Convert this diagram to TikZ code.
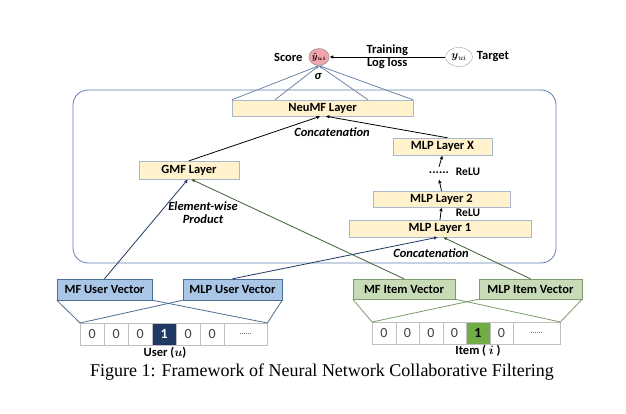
\documentclass[tikz,border=0pt]{standalone}
\usepackage{amsmath}
\usepackage{fontspec}
\setmainfont{Carlito}
\newfontfamily\capfont{Liberation Serif}
\usetikzlibrary{arrows.meta,shapes.geometric}

\definecolor{layerfill}{HTML}{FFF2CC}
\definecolor{layerline}{HTML}{A9B8CC}
\definecolor{userfill}{HTML}{A9C6E6}
\definecolor{userline}{HTML}{4A6E96}
\definecolor{userdark}{HTML}{1F3864}
\definecolor{itemfill}{HTML}{C6DBB6}
\definecolor{itemline}{HTML}{7C9A6C}
\definecolor{itemdark}{HTML}{3D6130}
\definecolor{itemcell}{HTML}{70AD47}
\definecolor{cellline}{HTML}{BFBFBF}
\definecolor{digit}{HTML}{404040}
\definecolor{scorefill}{HTML}{F3A5AD}
\definecolor{boxline}{HTML}{5D7FAF}
\definecolor{sigline}{HTML}{6D86A8}

\begin{document}
\begin{tikzpicture}[%
      x=1pt, y=-1pt,
      every node/.style={font={\fontsize{12.5}{14}\selectfont\bfseries},
                         inner sep=1pt},
      layer/.style={draw=layerline, fill=layerfill, minimum height=17pt},
      uvec/.style={draw=userline, fill=userfill, minimum height=21pt},
      ivec/.style={draw=itemline, fill=itemfill, minimum height=20pt},
      cell/.style={draw=cellline, fill=white, anchor=north west,
                   minimum width=24pt, minimum height=22pt, inner sep=0pt,
                   font={\fontsize{14}{15}\selectfont}, text=digit},
      tag/.style={font={\fontsize{12.5}{14}\selectfont\bfseries\itshape}},
      small/.style={font={\fontsize{11.5}{13}\selectfont\bfseries}},
      uline/.style={draw=userdark, thick, -{Latex[length=4pt,width=3.5pt]}},
      iline/.style={draw=itemdark, thick, -{Latex[length=4pt,width=3.5pt]}},
      kline/.style={draw=black, thick, -{Latex[length=4pt,width=3.5pt]}},
      sline/.style={draw=sigline, thick, -{Latex[length=3pt,width=3pt]}},
      fan/.style={thick},
    ]
    \useasboundingbox (0,0) rectangle (626,414);
    \draw[boxline, thick, rounded corners=15pt] (73,90) rectangle (556,263);

    % output
    \node[draw=gray, fill=scorefill, ellipse, minimum width=19pt,
          minimum height=17pt, inner sep=0pt,
          font={\fontsize{9}{9}\selectfont}] (score) at (319,57)
      {$\boldsymbol{\hat{y}_{ui}}$};
    \node[draw=gray!70, fill=white, ellipse, minimum width=27pt,
          minimum height=19pt, inner sep=0pt,
          font={\fontsize{11}{11}\selectfont}] (target) at (459,57)
      {$\boldsymbol{y}_{ui}$};
    \node[anchor=east] at ([xshift=-5pt]score.west) {Score};
    \node[anchor=west] at ([xshift=3pt]target.east) {Target};
    \draw[kline] (target) -- node[align=center] {Training\\[-1pt]Log loss} (score);
    \node[tag, inner sep=0pt] at (318,77) {σ};

    % layers
    \node[layer, minimum width=181pt, minimum height=16pt] (neumf) at (322.5,108) {NeuMF Layer};
    \node[layer, minimum width=100pt, minimum height=18pt] (gmf) at (189,170) {GMF Layer};
    \node[layer, minimum width=99pt] (mlpx) at (442.5,146.5) {MLP Layer X};
    \node[layer, minimum width=137pt, minimum height=16pt] (mlp2) at (441.5,199) {MLP Layer 2};
    \node[layer, minimum width=182pt] (mlp1) at (440,228.5) {MLP Layer 1};
    \node[inner sep=0pt, minimum height=12pt] (dots) at (439,173) {......};
    \node[small] at (468,172) {ReLU};
    \node[small] at (468,213) {ReLU};

    \foreach \dx in {-90.5,-47.5,45.5,90.5}
      \draw[sline] ([xshift=\dx pt]neumf.north) -- (score.south);

    \draw[kline] (mlp1.north) -- (mlp2.south);
    \draw[kline] (mlp2.north) -- (dots.south);
    \draw[kline] (dots.north) -- (mlpx.south);
    \draw[kline] (gmf.north) -- ([xshift=-2pt]neumf.south);
    \draw[kline] ([xshift=5pt]mlpx.north) -- ([xshift=3pt]neumf.south);
    \node[tag] at (332,132) {Concatenation};
    \node[tag] at (431,253) {Concatenation};
    \node[tag, align=center] at (203,213) {Element-wise\\[-1pt]Product};

    % embeddings
    \node[uvec, minimum width=95pt] (mfu) at (104.5,289.5) {MF User Vector};
    \node[uvec, minimum width=99pt] (mlpu) at (232.5,289.5) {MLP User Vector};
    \node[ivec, minimum width=102pt] (mfi) at (404,289) {MF Item Vector};
    \node[ivec, minimum width=103pt] (mlpi) at (530.5,289) {MLP Item Vector};

    \draw[uline] (mfu.north) -- ([xshift=-1pt]gmf.south);
    \draw[iline] (mfi.north) -- ([xshift=2pt]gmf.south);
    \draw[uline] (mlpu.north) -- ([xshift=-2pt]mlp1.south);
    \draw[iline] (mlpi.north) -- ([xshift=3pt]mlp1.south);

    % one-hot user
    \foreach \i in {1,2,3,5,6}
      \node[cell] (u\i) at ({80+24*(\i-1)},323) {0};
    \node[cell, fill=userdark, text=white, font={\fontsize{14}{15}\selectfont\bfseries}]
      (u4) at (152,323) {1};
    \node[cell, minimum width=43pt, font={\fontsize{8}{9}\selectfont}] (u7) at (224,323) {......};
    \node[inner sep=0pt] at (165,353) {User ($\boldsymbol{u}$)};

    % one-hot item
    \foreach \i in {1,2,3,4,6}
      \node[cell, minimum width=23.5pt] (i\i) at ({372+23.5*(\i-1)},322) {0};
    \node[cell, minimum width=23.5pt, fill=itemcell, text=black,
          font={\fontsize{14}{15}\selectfont\bfseries}] (i5) at (466,322) {1};
    \node[cell, minimum width=47pt, font={\fontsize{8}{9}\selectfont}] (i7) at (513,322) {......};
    \node[inner sep=0pt] at (478,351) {Item ( $\boldsymbol{i}$ )};

    \draw[userline, fan] (mfu.south west) -- (u1.north west);
    \draw[userline, fan] (mfu.south east) -- (u7.north east);
    \draw[userline, fan] (mlpu.south west) -- (u1.north west);
    \draw[userline, fan] (mlpu.south east) -- (u7.north east);
    \draw[itemline, fan] (mfi.south west) -- (i1.north west);
    \draw[itemline, fan] (mfi.south east) -- (i7.north east);
    \draw[itemline, fan] (mlpi.south west) -- (i1.north west);
    \draw[itemline, fan] (mlpi.south east) -- (i7.north east);

    \node[inner sep=0pt, font={\capfont\fontsize{18}{20}\selectfont}] at (322,372)
      {Figure 1: Framework of Neural Network Collaborative Filtering};
\end{tikzpicture}
\end{document}
